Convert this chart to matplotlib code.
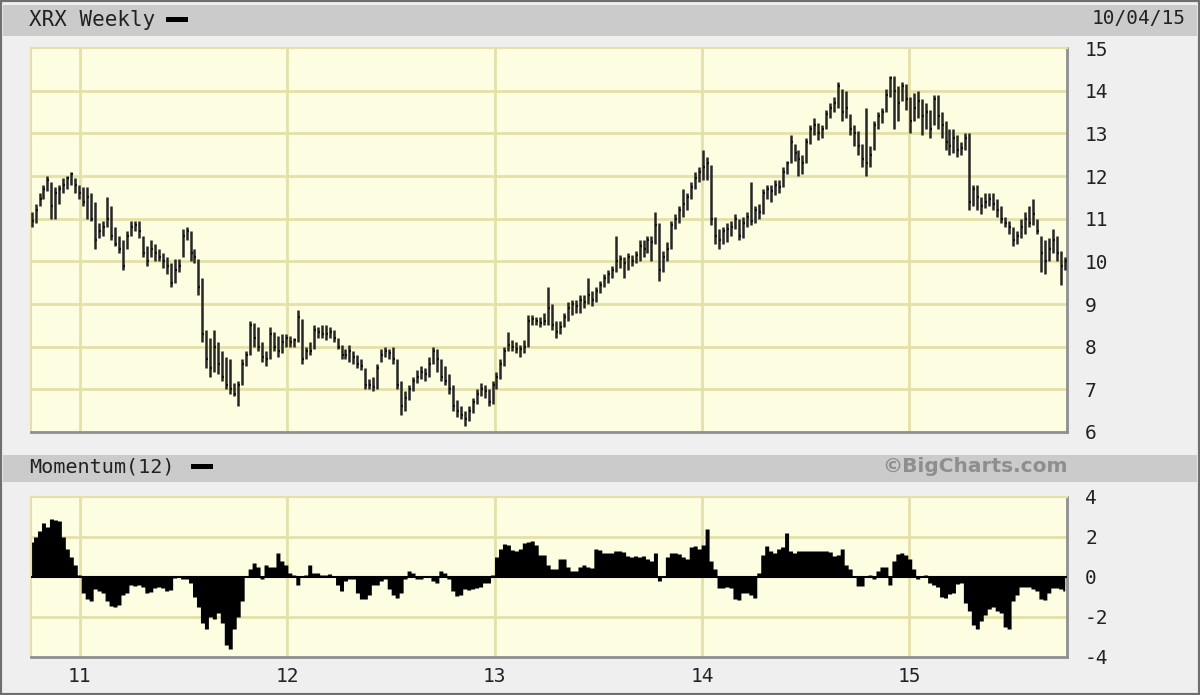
import matplotlib
matplotlib.use('Agg')
import matplotlib.pyplot as plt
import matplotlib.dates as mdates
from matplotlib.patches import Rectangle
import pandas as pd

# Datos semanales XRX
close = [
    10.95, 11.2, 11.45, 11.7, 11.9, 11.3, 11.6, 11.7, 11.8, 11.95,
    12.05, 11.8, 11.6, 11.4, 11.5, 11.0, 10.5, 10.7, 10.8, 11.0,
    10.6, 10.4, 10.3, 9.9, 10.6, 10.8, 10.85, 10.7, 10.2, 10.0,
    10.3, 10.2, 10.1, 10.0, 9.9, 9.5, 9.8, 9.9, 10.6, 10.7,
    10.2, 10.1, 9.4, 8.3, 7.7, 7.5, 8.0, 7.6, 7.3, 7.1,
    7.0, 6.9, 7.1, 7.6, 7.8, 8.5, 8.2, 8.0, 7.75, 7.7,
    8.3, 8.0, 7.9, 8.1, 8.2, 8.1, 8.15, 8.7, 7.7, 7.9,
    7.9, 8.4, 8.35, 8.3, 8.3, 8.35, 8.2, 8.0, 7.8, 7.8,
    7.9, 7.75, 7.6, 7.55, 7.1, 7.1, 7.05, 7.5, 7.8, 7.9,
    7.85, 7.7, 7.1, 6.6, 6.8, 7.0, 7.2, 7.3, 7.4, 7.35,
    7.6, 7.9, 7.7, 7.3, 7.2, 7.0, 6.6, 6.5, 6.4, 6.3,
    6.5, 6.7, 6.9, 7.0, 6.95, 6.7, 7.1, 7.3, 7.6, 7.9,
    8.05, 8.0, 7.95, 7.95, 8.0, 8.6, 8.65, 8.6, 8.55, 8.6,
    8.9, 8.5, 8.35, 8.45, 8.7, 8.9, 9.0, 8.95, 9.1, 9.05,
    9.2, 9.1, 9.3, 9.45, 9.6, 9.7, 9.8, 10.0, 10.05, 9.95,
    10.1, 10.0, 10.15, 10.35, 10.3, 10.5, 10.45, 10.85, 9.8, 10.1,
    10.3, 10.85, 11.0, 11.2, 11.35, 11.5, 11.75, 11.95, 12.1, 12.2,
    12.3, 11.0, 10.6, 10.5, 10.7, 10.75, 10.8, 11.0, 10.6, 10.9,
    11.05, 10.95, 11.2, 11.15, 11.6, 11.7, 11.65, 11.8, 11.75, 12.1,
    12.3, 12.8, 12.55, 12.4, 12.3, 12.8, 13.1, 13.2, 13.0, 13.1,
    13.45, 13.6, 13.7, 14.1, 13.5, 13.6, 13.1, 13.0, 12.7, 12.4,
    12.3, 12.5, 13.2, 13.4, 13.5, 13.9, 14.3, 14.0, 13.7, 14.1,
    13.8, 13.3, 13.6, 13.75, 13.4, 13.5, 13.1, 13.8, 13.4, 13.2,
    12.8, 12.7, 12.9, 12.6, 12.65, 12.9, 11.4, 11.7, 11.5, 11.3,
    11.4, 11.45, 11.35, 11.2, 11.0, 10.9, 10.8, 10.5, 10.6, 10.8,
    11.0, 10.9, 11.1, 10.7, 10.2, 10.0, 10.3, 10.5, 10.2, 9.9,
    10.0,
]

high = [
    11.15, 11.35, 11.6, 11.8, 12.0, 11.85, 11.75, 11.8, 11.95, 12.0,
    12.1, 11.95, 11.8, 11.75, 11.75, 11.6, 11.4, 10.9, 10.95, 11.5,
    11.3, 10.8, 10.6, 10.5, 10.7, 10.95, 10.95, 10.95, 10.6, 10.35,
    10.5, 10.4, 10.3, 10.2, 10.1, 9.95, 10.05, 10.05, 10.75, 10.8,
    10.7, 10.3, 10.05, 9.6, 8.4, 8.2, 8.4, 8.1, 7.9, 7.75,
    7.7, 7.15, 7.2, 7.7, 7.9, 8.6, 8.55, 8.45, 8.1, 7.9,
    8.45, 8.35, 8.25, 8.3, 8.3, 8.25, 8.2, 8.85, 8.65, 8.0,
    8.1, 8.5, 8.45, 8.5, 8.5, 8.45, 8.4, 8.2, 8.05, 7.95,
    8.05, 7.9, 7.8, 7.7, 7.5, 7.25, 7.3, 7.6, 7.95, 8.0,
    7.95, 8.0, 7.7, 7.2, 6.95, 7.1, 7.3, 7.45, 7.55, 7.5,
    7.75, 8.0, 7.95, 7.7, 7.55, 7.35, 7.1, 6.75, 6.6, 6.5,
    6.6, 6.8, 7.0, 7.15, 7.1, 7.0, 7.2, 7.4, 7.7, 8.0,
    8.35, 8.15, 8.1, 8.05, 8.15, 8.75, 8.75, 8.7, 8.7, 8.8,
    9.4, 9.0, 8.6, 8.6, 8.8, 9.05, 9.1, 9.1, 9.2, 9.2,
    9.6, 9.3, 9.4, 9.55, 9.7, 9.8, 9.9, 10.6, 10.15, 10.1,
    10.2, 10.15, 10.25, 10.5, 10.5, 10.6, 10.6, 11.15, 10.9, 10.25,
    10.45, 10.95, 11.1, 11.3, 11.7, 11.6, 11.85, 12.1, 12.2, 12.6,
    12.45, 12.25, 11.05, 10.75, 10.8, 10.9, 10.95, 11.1, 11.0, 11.05,
    11.15, 11.85, 11.3, 11.35, 11.7, 11.8, 11.8, 11.9, 11.9, 12.2,
    12.35, 12.95, 12.75, 12.6, 12.5, 12.9, 13.2, 13.35, 13.25, 13.2,
    13.55, 13.7, 13.85, 14.2, 14.05, 14.0, 13.45, 13.2, 13.05, 12.75,
    13.6, 12.7, 13.3, 13.5, 13.6, 14.05, 14.35, 14.35, 14.1, 14.2,
    14.15, 13.85, 13.95, 14.0, 13.8, 13.7, 13.55, 13.9, 13.9, 13.5,
    13.3, 13.1, 13.1, 12.95, 12.8, 13.0, 13.0, 11.8, 11.8, 11.5,
    11.6, 11.6, 11.6, 11.45, 11.3, 11.05, 10.95, 10.8, 10.7, 11.0,
    11.15, 11.3, 11.45, 11.0, 10.6, 10.5, 10.55, 10.75, 10.6, 10.25,
    10.1,
]

low = [
    10.8, 10.9, 11.3, 11.45, 11.65, 11.0, 11.0, 11.35, 11.6, 11.7,
    11.8, 11.6, 11.45, 11.3, 11.0, 10.95, 10.3, 10.55, 10.6, 10.8,
    10.5, 10.35, 10.2, 9.8, 10.3, 10.6, 10.7, 10.55, 10.1, 9.9,
    10.1, 10.0, 10.0, 9.85, 9.7, 9.4, 9.5, 9.75, 10.1, 10.5,
    10.0, 9.95, 9.2, 8.1, 7.5, 7.3, 7.4, 7.35, 7.2, 7.0,
    6.9, 6.85, 6.6, 7.1, 7.55, 7.8, 8.0, 7.9, 7.65, 7.55,
    7.7, 7.9, 7.75, 7.85, 8.0, 8.0, 8.0, 8.1, 7.6, 7.7,
    7.8, 7.95, 8.2, 8.2, 8.15, 8.2, 8.1, 7.95, 7.7, 7.7,
    7.65, 7.6, 7.5, 7.45, 7.0, 7.0, 6.95, 7.0, 7.65, 7.75,
    7.7, 7.6, 7.0, 6.4, 6.5, 6.75, 6.95, 7.15, 7.25, 7.2,
    7.3, 7.6, 7.4, 7.2, 7.1, 6.9, 6.5, 6.35, 6.3, 6.15,
    6.25, 6.45, 6.65, 6.85, 6.8, 6.6, 6.65, 7.0, 7.25, 7.55,
    7.9, 7.9, 7.85, 7.75, 7.85, 8.0, 8.5, 8.5, 8.45, 8.5,
    8.5, 8.4, 8.2, 8.3, 8.45, 8.6, 8.75, 8.8, 8.8, 8.9,
    9.0, 8.95, 9.05, 9.25, 9.4, 9.5, 9.6, 9.75, 9.85, 9.6,
    9.8, 9.9, 9.95, 10.0, 10.1, 10.2, 10.0, 10.4, 9.55, 9.75,
    10.0, 10.3, 10.75, 10.9, 11.05, 11.2, 11.45, 11.7, 11.85, 11.9,
    11.9, 10.85, 10.4, 10.3, 10.4, 10.45, 10.6, 10.75, 10.5, 10.55,
    10.8, 10.85, 10.9, 11.0, 11.1, 11.45, 11.4, 11.55, 11.6, 11.75,
    12.05, 12.3, 12.35, 12.0, 12.05, 12.3, 12.75, 12.95, 12.85, 12.9,
    13.1, 13.35, 13.5, 13.6, 13.3, 13.35, 12.95, 12.7, 12.5, 12.2,
    12.0, 12.2, 12.6, 13.1, 13.25, 13.5, 13.85, 13.1, 13.3, 13.75,
    13.55, 13.0, 13.3, 13.35, 12.95, 13.1, 12.9, 13.2, 13.1, 12.9,
    12.6, 12.5, 12.55, 12.45, 12.5, 12.6, 11.2, 11.3, 11.2, 11.1,
    11.25, 11.3, 11.2, 11.05, 10.9, 10.8, 10.65, 10.35, 10.4, 10.55,
    10.65, 10.8, 10.85, 10.65, 9.75, 9.7, 10.0, 10.2, 10.0, 9.45,
    9.8,
]

momentum = [
    1.75, 2.0, 2.3, 2.7, 2.5, 2.9, 2.85, 2.8, 2.0, 1.4,
    1.0, 0.6, 0.1, -0.8, -1.1, -1.2, -0.6, -0.7, -0.8, -1.2,
    -1.45, -1.5, -1.4, -0.9, -0.8, -0.4, -0.45, -0.4, -0.5, -0.8,
    -0.75, -0.55, -0.5, -0.55, -0.7, -0.65, -0.05, 0.0, -0.1, -0.1,
    -0.3, -1.0, -1.5, -2.3, -2.6, -2.0, -2.1, -1.8, -2.3, -3.4,
    -3.6, -2.6, -2.0, -1.2, 0.0, 0.4, 0.7, 0.5, -0.1, 0.6,
    0.5, 0.5, 1.2, 0.8, 0.6, 0.2, 0.1, -0.4, 0.0, 0.1,
    0.6, 0.2, 0.2, 0.1, 0.1, 0.15, 0.05, -0.4, -0.7, -0.2,
    -0.1, -0.1, -0.8, -1.1, -1.1, -0.9, -0.4, -0.4, -0.2, -0.1,
    -0.6, -0.9, -1.05, -0.8, -0.1, 0.3, 0.2, -0.1, -0.1, 0.0,
    0.05, -0.2, -0.3, 0.3, 0.2, -0.1, -0.7, -0.95, -0.9, -0.6,
    -0.65, -0.6, -0.55, -0.5, -0.3, -0.3, 0.1, 1.0, 1.4, 1.65,
    1.6, 1.35, 1.3, 1.4, 1.7, 1.75, 1.8, 1.6, 1.1, 1.1,
    0.6, 0.4, 0.4, 0.9, 0.9, 0.5, 0.3, 0.3, 0.5, 0.6,
    0.5, 0.45, 1.4, 1.35, 1.2, 1.2, 1.2, 1.3, 1.3, 1.25,
    1.05, 1.0, 1.05, 1.0, 1.05, 0.9, 0.8, 1.2, -0.2, 0.0,
    1.0, 1.2, 1.2, 1.15, 1.0, 0.9, 1.5, 1.55, 1.4, 1.6,
    2.4, 0.8, 0.4, -0.55, -0.55, -0.5, -0.55, -1.1, -1.15, -0.8,
    -0.8, -0.9, -1.05, 0.2, 1.1, 1.55, 1.3, 1.2, 1.4, 1.5,
    2.2, 1.3, 1.2, 1.3, 1.3, 1.3, 1.3, 1.3, 1.3, 1.3,
    1.3, 1.25, 1.05, 1.1, 1.4, 0.6, 0.4, 0.0, -0.45, -0.45,
    0.05, 0.1, -0.1, 0.3, 0.5, 0.5, -0.4, 0.8, 1.15, 1.2,
    1.1, 0.9, 0.4, -0.1, 0.05, 0.1, -0.3, -0.4, -0.5, -1.0,
    -1.05, -0.85, -0.8, -0.35, -0.3, -1.3, -1.7, -2.4, -2.6, -2.2,
    -1.9, -1.6, -1.5, -1.7, -1.8, -2.5, -2.6, -1.2, -0.9, -0.5,
    -0.5, -0.5, -0.6, -0.7, -1.1, -1.15, -0.8, -0.55, -0.55, -0.6,
    -0.7,
]

price_ticks = list(range(6, 16))
mom_ticks = [-4, -2, 0, 2, 4]

dates = pd.date_range('2010-10-08', periods=len(close), freq='7D')

W, H = 1200, 695
fig = plt.figure(figsize=(W / 100, H / 100), dpi=100, facecolor='#efefef')

def fx(px):
    return px / W

def fy(py):
    return 1 - py / H

# marco y bandas de titulo
fig.patches.append(Rectangle((0, 0), 1, 1, transform=fig.transFigure,
                             fill=False, edgecolor='#6f6f6f', linewidth=3))
fig.patches.append(Rectangle((fx(3), fy(36)), fx(1194), 31 / H, transform=fig.transFigure,
                             facecolor='#cbcbcb', edgecolor='none'))
fig.patches.append(Rectangle((fx(3), fy(482)), fx(1194), 27 / H, transform=fig.transFigure,
                             facecolor='#cbcbcb', edgecolor='none'))
fig.patches.append(Rectangle((fx(166), fy(22)), fx(22), 5 / H, transform=fig.transFigure,
                             facecolor='black', edgecolor='none'))
fig.patches.append(Rectangle((fx(191), fy(469)), fx(22), 5 / H, transform=fig.transFigure,
                             facecolor='black', edgecolor='none'))

mono = 'DejaVu Sans Mono'
fig.text(fx(29), fy(20), 'XRX Weekly', family=mono, fontsize=15, color='#222222', va='center')
fig.text(fx(1186), fy(19), '10/04/15', family=mono, fontsize=14, color='#222222', va='center', ha='right')
fig.text(fx(29), fy(467), 'Momentum(12)', family=mono, fontsize=14.5, color='#222222', va='center')
fig.text(fx(1068), fy(467), '\u00a9BigCharts.com', family='DejaVu Sans', fontsize=14.5,
         fontweight='bold', color='#8e8e8e', va='center', ha='right')

bg = '#fdfde2'
grid_c = '#e4e0a8'
xmin = pd.Timestamp('2010-10-07')
xmax = pd.Timestamp('2015-10-06')
years = [pd.Timestamp(f'{y}-01-01') for y in range(2011, 2016)]


def style_axes(ax):
    ax.set_facecolor(bg)
    ax.set_xlim(xmin, xmax)
    ax.yaxis.tick_right()
    ax.tick_params(axis='both', length=0, labelsize=14, colors='#222222')
    ax.tick_params(axis='y', pad=13)
    for side in ['top', 'left']:
        ax.spines[side].set_color(grid_c)
        ax.spines[side].set_linewidth(1.5)
    for side in ['bottom', 'right']:
        ax.spines[side].set_color('#8f8f8f')
        ax.spines[side].set_linewidth(2)
    for d in years:
        ax.axvline(d, color=grid_c, linewidth=2, zorder=0)


# panel de precio
ax1 = fig.add_axes([fx(31), fy(432), fx(1036), 384 / H])
style_axes(ax1)
ax1.set_ylim(6, 15)
ax1.set_yticks(price_ticks)
ax1.set_yticklabels([str(t) for t in price_ticks], family=mono)
for t in price_ticks[1:-1]:
    ax1.axhline(t, color=grid_c, linewidth=2, zorder=0)
ax1.set_xticks([])
ax1.vlines(dates, low, high, color='#262626', linewidth=1.8, zorder=3)
ax1.hlines(close, dates, dates + pd.Timedelta(days=3.5), color='#111111', linewidth=1.6, zorder=3)

# panel de momentum
ax2 = fig.add_axes([fx(31), fy(657), fx(1036), 160 / H])
style_axes(ax2)
ax2.set_ylim(-4, 4)
ax2.set_yticks(mom_ticks)
ax2.set_yticklabels([str(t) for t in mom_ticks], family=mono)
for t in [-2, 2]:
    ax2.axhline(t, color=grid_c, linewidth=2, zorder=0)
ax2.fill_between(dates, 0, momentum, step='mid', color='black', linewidth=0, zorder=3)
ax2.axhline(0, color='black', linewidth=1.5, zorder=4)
ax2.set_xticks(years)
ax2.xaxis.set_major_formatter(mdates.DateFormatter('%y'))
ax2.tick_params(axis='x', pad=7)
for lab in ax2.get_xticklabels():
    lab.set_family(mono)

fig.savefig('out.png', dpi=100, facecolor=fig.get_facecolor())
